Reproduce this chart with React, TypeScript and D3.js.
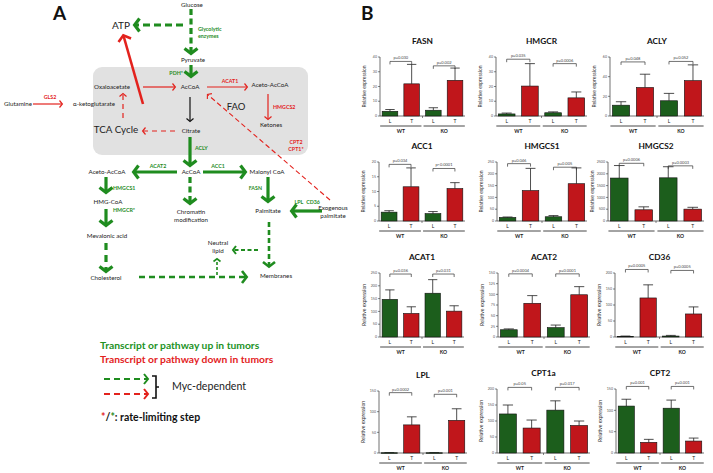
import * as d3 from 'd3'

// ---- panel B data (order of bars: WT L, WT T, KO L, KO T) ----
const genes = ['FASN', 'HMGCR', 'ACLY', 'ACC1', 'HMGCS1', 'HMGCS2', 'ACAT1', 'ACAT2', 'CD36', 'LPL', 'CPT1a', 'CPT2']
const yMaxes = [40, 40, 60, 20, 250, 2500, 250, 150, 200, 150, 200, 150]
const ySteps = [10, 10, 20, 5, 50, 500, 50, 25, 50, 50, 50, 50]
const means = [
  [3.2, 21.8, 3.9, 24.2],
  [1.4, 20.3, 2.2, 12.3],
  [11, 29, 15.5, 36],
  [3, 11.6, 2.5, 11],
  [15, 129, 18, 158],
  [1820, 475, 1830, 503],
  [147, 92, 171, 101],
  [17, 79, 22, 99],
  [2, 122, 3, 72],
  [0.6, 68, 0.6, 79],
  [122, 78, 134, 86],
  [110, 25, 105, 28],
]
const errTops = [
  [4.4, 35, 5.6, 32.5],
  [2.0, 35.5, 2.8, 16.3],
  [14.5, 42.5, 23, 52],
  [3.5, 18, 3.2, 13],
  [17, 223, 23, 225],
  [2350, 600, 2300, 580],
  [184, 118, 224, 122],
  [19, 97, 28, 118],
  [3, 163, 5, 94],
  [1, 87.5, 1, 107],
  [150, 103, 163, 100],
  [126, 32, 124, 35],
]
const pWT = ['p=0.030', 'p=0.035', 'p=0.048', 'p=0.034', 'p=0.046', 'p=0.0006', 'p=0.036', 'p=0.0004', 'p=0.0005', 'p=0.0002', 'p=0.05', 'p=0.001']
const pKO = ['p=0.002', 'p=0.0006', 'p=0.052', 'p<0.0001', 'p=0.005', 'p=0.0003', 'p=0.031', 'p=0.0001', 'p=0.0005', 'p=0.001', 'p=0.017', 'p=0.001']
const bracketWT = [37, 38.5, 55, 19.2, 243, 2445, 246, 148, 211, 146, 205, 156]
const bracketKO = [34, 35.5, 55.5, 17.8, 228, 2337, 246, 148, 208, 142, 205, 156]
const barKeys = ['WT-L', 'WT-T', 'KO-L', 'KO-T']
const barLetters = ['L', 'T', 'L', 'T']
const groups = ['WT', 'KO']

// chart boxes: [x0, right, top, bottom]
const boxes = [
  [380, 465, 57, 116], [496, 587, 57, 116], [610, 704, 57, 116],
  [379, 465, 162, 221], [497, 587, 162, 221], [608, 704, 162, 221],
  [380, 464, 273, 337], [498, 590, 273, 337], [615, 704, 273, 337],
  [379, 467, 391, 453], [497, 590, 389, 453], [616, 704, 389, 453],
]

const BAR_GREEN = '#1c5e1c'
const BAR_RED = '#c0161b'
const A_GREEN = '#1f8c1f'
const A_RED = '#e3221d'
const FONT = "Lato, 'Open Sans', 'Liberation Sans', sans-serif"

function BarChart({ i }: { i: number }) {
  const [x0, right, top, bottom] = boxes[i]
  const max = yMaxes[i]
  const y = d3.scaleLinear().domain([0, max]).range([bottom, top])
  const x = d3.scaleBand().domain(barKeys).range([x0, right]).paddingInner(0.28).paddingOuter(0.1)
  const bw = x.bandwidth()
  const ticks = d3.range(0, max + ySteps[i] / 2, ySteps[i])
  const midX = (x0 + right) / 2
  const cx = (k: string) => (x(k) ?? 0) + bw / 2
  const groupMid = ((x('WT-T') ?? 0) + bw + (x('KO-L') ?? 0)) / 2
  const brackets = [
    { a: 'WT-L', b: 'WT-T', level: bracketWT[i], label: pWT[i] },
    { a: 'KO-L', b: 'KO-T', level: bracketKO[i], label: pKO[i] },
  ]
  return (
    <g fontFamily={FONT}>
      <text x={midX} y={top - 13} textAnchor="middle" fontSize={8.3} fontWeight="bold" fill="#111">
        {genes[i]}
      </text>
      <text
        transform={`translate(${x0 - 14},${(top + bottom) / 2}) rotate(-90)`}
        textAnchor="middle"
        fontSize={5}
        fill="#333"
      >
        Relative expression
      </text>
      <line x1={x0} x2={x0} y1={top} y2={bottom} stroke="#333" strokeWidth={0.7} />
      {ticks.map((t) => (
        <g key={t}>
          <line x1={x0 - 2} x2={x0} y1={y(t)} y2={y(t)} stroke="#333" strokeWidth={0.6} />
          <text x={x0 - 3} y={y(t) + 1.2} textAnchor="end" fontSize={3.6} fill="#555">
            {t}
          </text>
        </g>
      ))}
      <line x1={x0} x2={right} y1={bottom} y2={bottom} stroke="#333" strokeWidth={0.7} />
      <line x1={groupMid} x2={groupMid} y1={bottom} y2={bottom + 2} stroke="#333" strokeWidth={0.6} />
      {barKeys.map((k, j) => {
        const v = means[i][j]
        const e = errTops[i][j]
        const c = cx(k)
        return (
          <g key={k}>
            <line x1={c} x2={c} y1={y(v)} y2={y(e)} stroke="#222" strokeWidth={0.8} />
            <line x1={c - bw * 0.3} x2={c + bw * 0.3} y1={y(e)} y2={y(e)} stroke="#222" strokeWidth={0.8} />
            <rect
              x={x(k)}
              y={y(v)}
              width={bw}
              height={Math.max(0.6, bottom - y(v))}
              fill={j % 2 === 0 ? BAR_GREEN : BAR_RED}
              stroke="#111"
              strokeWidth={0.6}
            />
            <text x={c} y={bottom + 7} textAnchor="middle" fontSize={5} fill="#222">
              {barLetters[j]}
            </text>
          </g>
        )
      })}
      {groups.map((g, gi) => {
        const a = x(barKeys[gi * 2]) ?? 0
        const b = (x(barKeys[gi * 2 + 1]) ?? 0) + bw
        return (
          <g key={g}>
            <line x1={a - 2} x2={b + 2} y1={bottom + 10} y2={bottom + 10} stroke="#333" strokeWidth={0.9} />
            <text x={(a + b) / 2} y={bottom + 17} textAnchor="middle" fontSize={5} fontWeight="bold" fill="#222">
              {g}
            </text>
          </g>
        )
      })}
      {brackets.map((br) => {
        const a = cx(br.a)
        const b = cx(br.b)
        const ly = y(br.level)
        return (
          <g key={br.a}>
            <path
              d={`M${a},${ly + 3}V${ly}H${b}V${ly + 3}`}
              fill="none"
              stroke="#333"
              strokeWidth={0.7}
            />
            <text x={(a + b) / 2} y={ly - 2} textAnchor="middle" fontSize={4} fill="#444">
              {br.label}
            </text>
          </g>
        )
      })}
    </g>
  )
}

// ---- panel A (pathway diagram) ----
type ArrowSpec = { x1: number; y1: number; x2: number; y2: number; c: string; w: number; h: number; dash?: string }

const arrows: ArrowSpec[] = [
  { x1: 191, y1: 9, x2: 191, y2: 55, c: A_GREEN, w: 3.2, h: 6.5, dash: '6 3.5' },
  { x1: 183, y1: 25, x2: 133, y2: 25, c: A_GREEN, w: 3.2, h: 6.5, dash: '7 4' },
  { x1: 191, y1: 65, x2: 191, y2: 78, c: A_GREEN, w: 3.2, h: 6.5 },
  { x1: 143, y1: 87, x2: 176, y2: 87, c: A_RED, w: 1.2, h: 3.5 },
  { x1: 207, y1: 87, x2: 248, y2: 87, c: A_RED, w: 1.2, h: 3.5 },
  { x1: 268, y1: 94, x2: 268, y2: 120, c: A_RED, w: 1.2, h: 3.5 },
  { x1: 190, y1: 97, x2: 190, y2: 122, c: '#111', w: 1.2, h: 3.5 },
  { x1: 175, y1: 131, x2: 142, y2: 131, c: A_RED, w: 1.2, h: 3.5, dash: '5 4' },
  { x1: 123, y1: 118, x2: 123, y2: 93, c: A_RED, w: 1.2, h: 3.5, dash: '5 4' },
  { x1: 143, y1: 104, x2: 123, y2: 34, c: A_RED, w: 2.6, h: 6.5 },
  { x1: 33, y1: 104, x2: 63, y2: 104, c: A_RED, w: 1.2, h: 3.5 },
  { x1: 330, y1: 200, x2: 207, y2: 94, c: A_RED, w: 1.1, h: 3.5, dash: '5 3' },
  { x1: 190, y1: 137, x2: 190, y2: 167, c: A_GREEN, w: 3.2, h: 6.5 },
  { x1: 177, y1: 172, x2: 132, y2: 172, c: A_GREEN, w: 3.2, h: 6.5 },
  { x1: 203, y1: 172, x2: 247, y2: 172, c: A_GREEN, w: 3.2, h: 6.5 },
  { x1: 106, y1: 177, x2: 106, y2: 194, c: A_GREEN, w: 3.2, h: 6.5 },
  { x1: 106, y1: 209, x2: 106, y2: 227, c: A_GREEN, w: 3.2, h: 6.5 },
  { x1: 106, y1: 243, x2: 106, y2: 273, c: A_GREEN, w: 3.2, h: 6.5, dash: '7 5' },
  { x1: 190, y1: 177, x2: 190, y2: 205, c: A_GREEN, w: 3.2, h: 6.5, dash: '6 3.5' },
  { x1: 268, y1: 177, x2: 268, y2: 203, c: A_GREEN, w: 3.2, h: 6.5 },
  { x1: 322, y1: 211, x2: 290, y2: 211, c: A_GREEN, w: 3.2, h: 6.5 },
  { x1: 269, y1: 222, x2: 269, y2: 268, c: A_GREEN, w: 2.6, h: 6, dash: '5 3' },
  { x1: 258, y1: 250, x2: 232, y2: 250, c: A_GREEN, w: 2, h: 4, dash: '4 2.5' },
  { x1: 139, y1: 277, x2: 248, y2: 277, c: A_GREEN, w: 2.6, h: 6, dash: '6 4' },
  { x1: 217, y1: 275, x2: 217, y2: 258, c: A_GREEN, w: 1.6, h: 3.5, dash: '3 2' },
  { x1: 104, y1: 379, x2: 149, y2: 379, c: A_GREEN, w: 2, h: 5, dash: '6 4' },
  { x1: 104, y1: 394, x2: 149, y2: 394, c: A_RED, w: 2, h: 5, dash: '6 4' },
]

type Label = { t: string; x: number; y: number; c?: string; s?: number; b?: boolean; a?: 'start' | 'middle' | 'end' }

const labels: Label[] = [
  { t: 'Glucose', x: 192, y: 5 },
  { t: 'ATP', x: 121, y: 25, s: 10 },
  { t: 'Glycolytic', x: 198, y: 29, c: A_GREEN, b: true, a: 'start', s: 5.3 },
  { t: 'enzymes', x: 198, y: 36, c: A_GREEN, b: true, a: 'start', s: 5.3 },
  { t: 'Pyruvate', x: 193, y: 60 },
  { t: 'PDH*', x: 183, y: 73, c: A_GREEN, b: true, a: 'end', s: 5.3 },
  { t: 'Oxaloacetate', x: 112, y: 87 },
  { t: 'AcCoA', x: 190, y: 87 },
  { t: 'ACAT1', x: 230, y: 81, c: A_RED, b: true, s: 5.3 },
  { t: 'Aceto-AcCoA', x: 270, y: 85 },
  { t: 'HMGCS2', x: 273, y: 107, c: A_RED, b: true, a: 'start', s: 5.3 },
  { t: 'Ketones', x: 271, y: 125 },
  { t: 'FAO', x: 236, y: 107, s: 9.5 },
  { t: 'Citrate', x: 191, y: 131 },
  { t: 'TCA Cycle', x: 116, y: 130, s: 9.8 },
  { t: 'Glutamine', x: 18, y: 104 },
  { t: 'GLS2', x: 50, y: 97, c: A_RED, b: true, s: 5.3 },
  { t: 'α-ketoglutarate', x: 94, y: 104 },
  { t: 'CPT2', x: 296, y: 142, c: A_RED, b: true, s: 5.3 },
  { t: 'CPT1*', x: 296, y: 149, c: A_RED, b: true, s: 5.3 },
  { t: 'ACLY', x: 195, y: 148, c: A_GREEN, b: true, a: 'start', s: 5.3 },
  { t: 'AcCoA', x: 191, y: 172 },
  { t: 'ACAT2', x: 158, y: 166, c: A_GREEN, b: true, s: 5.3 },
  { t: 'Aceto-AcCoA', x: 107, y: 172 },
  { t: 'ACC1', x: 218, y: 166, c: A_GREEN, b: true, s: 5.3 },
  { t: 'Malonyl CoA', x: 267, y: 172 },
  { t: 'HMGCS1', x: 113, y: 188, c: A_GREEN, b: true, a: 'start', s: 5.3 },
  { t: 'HMG-CoA', x: 108, y: 202 },
  { t: 'HMGCR*', x: 113, y: 210, c: A_GREEN, b: true, a: 'start', s: 5.3 },
  { t: 'Mevalonic acid', x: 107, y: 236 },
  { t: 'Cholesterol', x: 106, y: 278 },
  { t: 'Chromatin', x: 191, y: 212 },
  { t: 'modification', x: 191, y: 220 },
  { t: 'FASN', x: 262, y: 188, c: A_GREEN, b: true, a: 'end', s: 5.3 },
  { t: 'Palmitate', x: 268, y: 211 },
  { t: 'LPL', x: 299, y: 202, c: A_GREEN, b: true, s: 5.3 },
  { t: 'CD36', x: 313, y: 202, c: A_GREEN, b: true, s: 5.3 },
  { t: 'Exogenous', x: 333, y: 208 },
  { t: 'palmitate', x: 333, y: 216 },
  { t: 'Neutral', x: 218, y: 243 },
  { t: 'lipid', x: 218, y: 251 },
  { t: 'Membranes', x: 276, y: 276 },
  { t: 'Transcript or pathway up in tumors', x: 100, y: 345, c: '#22921f', b: true, a: 'start', s: 10.3 },
  { t: 'Transcript or pathway down in tumors', x: 100, y: 359, c: '#e3221d', b: true, a: 'start', s: 10.3 },
  { t: 'Myc-dependent', x: 172, y: 386, a: 'start', s: 10.6 },
]

function Arrow({ s }: { s: ArrowSpec }) {
  const ang = Math.atan2(s.y2 - s.y1, s.x2 - s.x1)
  const cos = Math.cos(ang)
  const sin = Math.sin(ang)
  const bx = s.x2 - s.h * cos
  const by = s.y2 - s.h * sin
  const px = -sin * s.h
  const py = cos * s.h
  const ex = s.x2 - s.w * 0.9 * cos
  const ey = s.y2 - s.w * 0.9 * sin
  return (
    <g>
      <line x1={s.x1} y1={s.y1} x2={ex} y2={ey} stroke={s.c} strokeWidth={s.w} strokeDasharray={s.dash} />
      <polyline
        points={`${bx + px},${by + py} ${s.x2 - s.w * 0.5 * cos},${s.y2 - s.w * 0.5 * sin} ${bx - px},${by - py}`}
        fill="none"
        stroke={s.c}
        strokeWidth={s.w}
      />
    </g>
  )
}

export default function App() {
  return (
    <svg
      width={713}
      height={473}
      style={{ position: 'absolute', left: 0, top: 0, background: '#fff' }}
      fontFamily={FONT}
    >
      <text x={53} y={20} fontSize={19} fontWeight="bold" fill="#111">A</text>
      <text x={361} y={20} fontSize={19} fontWeight="bold" fill="#111">B</text>
      <rect x={93} y={67} width={215} height={88} rx={9} fill="#e1e1e1" />
      {arrows.map((a, k) => (
        <Arrow key={k} s={a} />
      ))}
      {labels.map((l, k) => (
        <text
          key={k}
          x={l.x}
          y={l.y}
          dy="0.35em"
          textAnchor={l.a ?? 'middle'}
          fontSize={l.s ?? 6.2}
          fontWeight={l.b ? 'bold' : 'normal'}
          fill={l.c ?? '#222'}
        >
          {l.t}
        </text>
      ))}
      <path d="M152,376H156V398H152M156,387H159" fill="none" stroke="#111" strokeWidth={1.6} />
      <text x={101} y={417} dy="0.35em" fontSize={10.5} fontWeight="bold" fill="#111">
        <tspan fill="#e3221d">*</tspan>/<tspan fill="#1f8c1f">*</tspan>: rate-limiting step
      </text>
      {genes.map((g, i) => (
        <BarChart key={g} i={i} />
      ))}
    </svg>
  )
}
